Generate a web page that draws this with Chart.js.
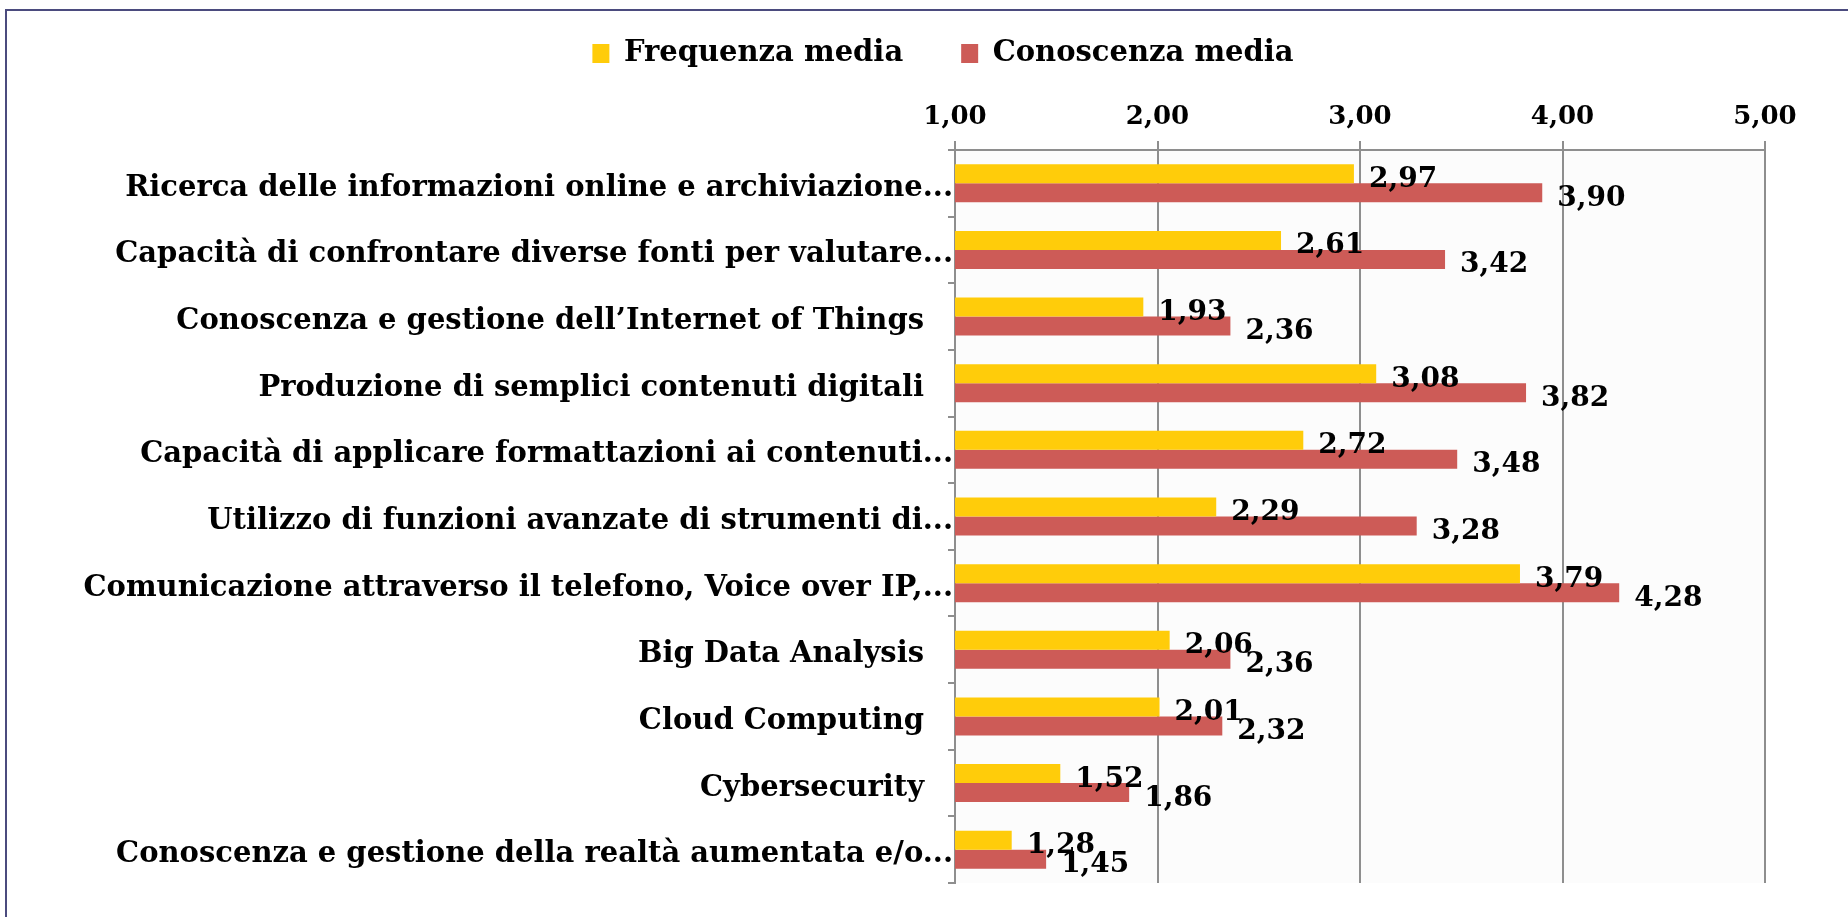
<!DOCTYPE html>
<html>
<head>
<meta charset="utf-8">
<script src="https://cdn.jsdelivr.net/npm/chart.js@4/dist/chart.umd.min.js"></script>
<style>
  body { margin: 0; background: #fff; }
  #wrap { position: relative; width: 1848px; height: 917px; }
  #frame { position: absolute; left: 5px; top: 9px; right: 0; bottom: 0;
    border-top: 2px solid #4b4b7e; border-left: 2px solid #4b4b7e; pointer-events: none; }
</style>
</head>
<body>
<div id="wrap">
  <canvas id="chart" width="1848" height="917"></canvas>
  <div id="frame"></div>
</div>
<script>
const categories = [
  'Ricerca delle informazioni online e archiviazione...',
  'Capacità di confrontare diverse fonti per valutare...',
  'Conoscenza e gestione dell’Internet of Things',
  'Produzione di semplici contenuti digitali',
  'Capacità di applicare formattazioni ai contenuti...',
  'Utilizzo di funzioni avanzate di strumenti di...',
  'Comunicazione attraverso il telefono, Voice over IP,...',
  'Big Data Analysis',
  'Cloud Computing',
  'Cybersecurity',
  'Conoscenza e gestione della realtà aumentata e/o...'
]
const frequenza = [2.97, 2.61, 1.93, 3.08, 2.72, 2.29, 3.79, 2.06, 2.01, 1.52, 1.28]
const conoscenza = [3.90, 3.42, 2.36, 3.82, 3.48, 3.28, 4.28, 2.36, 2.32, 1.86, 1.45]
const seriesNames = ['Frequenza media', 'Conoscenza media']
const xTicks = [1, 2, 3, 4, 5]

const FONT = '"DejaVu Serif", Georgia, serif'
const fmt = v => v.toFixed(2).replace('.', ',')

// light grey plot background
const plotBg = {
  id: 'plotBg',
  beforeDraw(chart) {
    const {ctx, chartArea: a} = chart
    ctx.save()
    ctx.fillStyle = '#fcfcfc'
    ctx.fillRect(a.left, a.top, a.right - a.left, a.bottom - a.top)
    ctx.restore()
  }
}

// legend sits a bit right of the canvas centre in the original
const legendShift = {
  id: 'legendShift',
  afterLayout(chart) {
    chart.legend.left += 121
  }
}

// value labels at bar end, a bit low like the excel original
const barLabels = {
  id: 'barLabels',
  afterDatasetsDraw(chart) {
    const ctx = chart.ctx
    ctx.save()
    ctx.font = 'bold 28px ' + FONT
    ctx.fillStyle = '#000'
    ctx.textAlign = 'left'
    ctx.textBaseline = 'alphabetic'
    chart.data.datasets.forEach((ds, i) => {
      chart.getDatasetMeta(i).data.forEach((bar, j) => {
        ctx.fillText(fmt(ds.data[j]), bar.x + 15, bar.y + 13)
      })
    })
    ctx.restore()
  }
}

new Chart(document.getElementById('chart'), {
  type: 'bar',
  data: {
    labels: categories,
    datasets: [
      { label: seriesNames[0], data: frequenza, backgroundColor: '#ffcc0a' },
      { label: seriesNames[1], data: conoscenza, backgroundColor: '#cd5b57' }
    ]
  },
  options: {
    indexAxis: 'y',
    responsive: false,
    animation: false,
    categoryPercentage: 0.57,
    barPercentage: 1,
    layout: { padding: { top: 10, left: 0, right: 83, bottom: 34 } },
    plugins: {
      tooltip: { enabled: false },
      legend: {
        position: 'top',
        labels: {
          boxWidth: 17,
          boxHeight: 19,
          padding: 29,
          color: '#000',
          font: { family: FONT, size: 29, weight: 'bold' },
          // extra gap after the first entry, like the original
          generateLabels: chart => {
            const items = Chart.defaults.plugins.legend.labels.generateLabels(chart)
            items[0].text += '\u2003'
            return items
          }
        }
      }
    },
    scales: {
      x: {
        position: 'top',
        min: 1,
        max: 5,
        afterBuildTicks: s => { s.ticks = xTicks.map(v => ({ value: v })) },
        afterFit: s => { s.height = 150 - 10 - s.chart.legend.height },
        ticks: {
          padding: 8,
          color: '#000',
          font: { family: FONT, size: 26, weight: 'bold' },
          callback: v => fmt(v)
        },
        grid: { color: '#8e8e8e', lineWidth: 2, tickLength: 9 },
        border: { display: true, color: '#8e8e8e', width: 2 }
      },
      y: {
        afterFit: s => { s.width = 955 },
        ticks: {
          padding: -5,
          labelOffset: 5,
          color: '#000',
          font: { family: FONT, size: 29, weight: 'bold' },
          callback: function(v) {
            const t = this.getLabelForValue(v)
            return t.endsWith('...') ? t : t + '\u2003'
          }
        },
        grid: { drawOnChartArea: false, color: '#8e8e8e', lineWidth: 2, tickLength: 7, offset: true },
        border: { display: true, color: '#8e8e8e', width: 2 }
      }
    }
  },
  plugins: [plotBg, legendShift, barLabels]
})
</script>
</body>
</html>
